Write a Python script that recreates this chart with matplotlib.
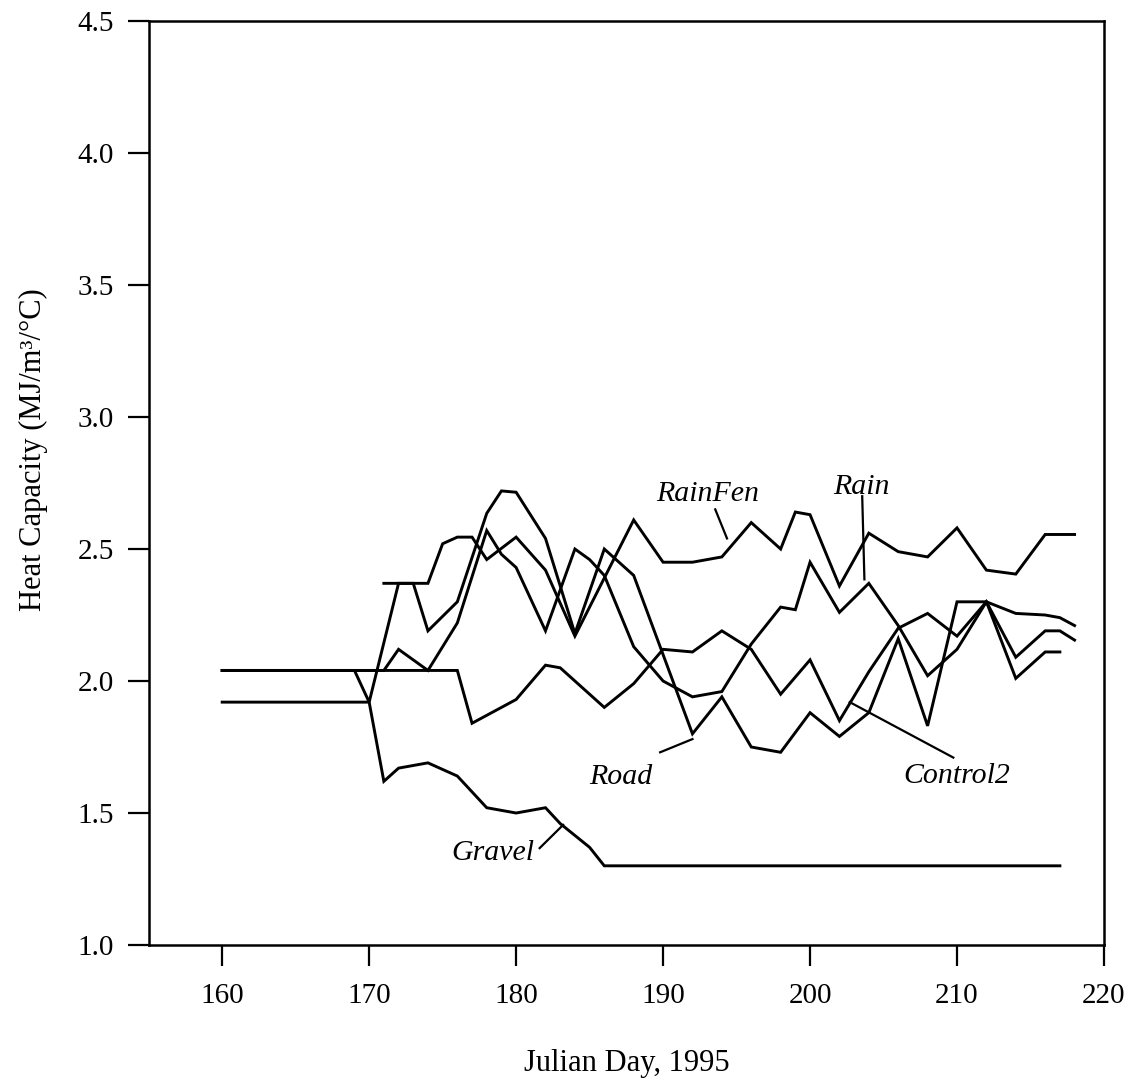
import matplotlib
matplotlib.use("Agg")
import matplotlib.pyplot as plt

plt.rcParams['font.family'] = ['Liberation Serif', 'DejaVu Serif']

# ---- data ----
rainfen_day = [171, 172, 173, 174, 175, 176, 177, 178, 180, 182, 184, 188, 190, 192, 194, 196, 198, 199,
               200, 202, 204, 206, 208, 210, 212, 214, 216, 218]
rainfen_val = [2.37, 2.37, 2.37, 2.37, 2.52, 2.545, 2.545, 2.46, 2.545, 2.42, 2.17, 2.61, 2.45, 2.45, 2.47,
               2.60, 2.50, 2.64, 2.63, 2.36, 2.56, 2.49, 2.47, 2.58, 2.42, 2.405, 2.555, 2.555]

rain_day = [160, 170, 171, 172, 174, 176, 178, 179, 180, 182, 184, 185, 186, 188, 190, 192, 194, 196, 198,
            199, 200, 202, 204, 206, 208, 210, 212, 214, 216, 217, 218]
rain_val = [2.04, 2.04, 2.04, 2.12, 2.04, 2.22, 2.57, 2.48, 2.43, 2.19, 2.50, 2.46, 2.40, 2.13, 2.00, 1.94,
            1.96, 2.14, 2.28, 2.27, 2.45, 2.26, 2.37, 2.21, 2.02, 2.12, 2.30, 2.09, 2.19, 2.19, 2.155]

road_day = [160, 169, 170, 172, 173, 174, 176, 178, 179, 180, 182, 184, 186, 188, 190, 192, 194, 196, 198,
            200, 202, 204, 206, 208, 210, 212, 214, 216, 217]
road_val = [2.04, 2.04, 1.92, 2.37, 2.37, 2.19, 2.30, 2.635, 2.72, 2.715, 2.54, 2.18, 2.50, 2.40, 2.10, 1.80,
            1.94, 1.75, 1.73, 1.88, 1.79, 1.88, 2.16, 1.83, 2.30, 2.30, 2.01, 2.11, 2.11]

control2_day = [160, 170, 176, 177, 178, 180, 182, 183, 184, 186, 188, 190, 192, 194, 196, 198, 200, 202,
                204, 206, 208, 210, 212, 214, 216, 217, 218]
control2_val = [2.04, 2.04, 2.04, 1.84, 1.87, 1.93, 2.06, 2.05, 2.00, 1.90, 1.99, 2.12, 2.11, 2.19, 2.12,
                1.95, 2.08, 1.85, 2.035, 2.20, 2.256, 2.17, 2.30, 2.256, 2.25, 2.24, 2.21]

gravel_day = [160, 170, 171, 172, 174, 176, 178, 180, 182, 183, 185, 186, 217]
gravel_val = [1.92, 1.92, 1.62, 1.67, 1.69, 1.64, 1.52, 1.50, 1.52, 1.46, 1.37, 1.30, 1.30]

x_ticks = [160, 170, 180, 190, 200, 210, 220]
y_ticks = [1.0, 1.5, 2.0, 2.5, 3.0, 3.5, 4.0, 4.5]

# label text, text position, leader start, leader end
labels = [
    ("RainFen", (193.0, 2.71), (193.55, 2.65), (194.35, 2.54)),
    ("Rain", (203.5, 2.735), (203.55, 2.70), (203.7, 2.385)),
    ("Road", (187.1, 1.635), (189.8, 1.73), (192.0, 1.78)),
    ("Control2", (210.0, 1.64), (209.75, 1.71), (202.7, 1.92)),
    ("Gravel", (178.4, 1.35), (181.6, 1.367), (183.2, 1.455)),
]

fig = plt.figure(figsize=(11.44, 10.82), dpi=100)
ax = fig.add_axes([0.130, 0.1266, 0.835, 0.854])

lw = 2.1
for d, v in [(rainfen_day, rainfen_val), (rain_day, rain_val), (road_day, road_val),
             (control2_day, control2_val), (gravel_day, gravel_val)]:
    ax.plot(d, v, color='black', lw=lw, solid_joinstyle='miter')

for txt, tpos, p0, p1 in labels:
    ax.text(tpos[0], tpos[1], txt, fontsize=21.5, style='italic', ha='center', va='center')
    ax.plot([p0[0], p1[0]], [p0[1], p1[1]], color='black', lw=1.6)

ax.set_xlim(155, 220)
ax.set_ylim(1.0, 4.5)
ax.set_xticks(x_ticks)
ax.set_yticks(y_ticks)
ax.set_yticklabels([f"{t:.1f}" for t in y_ticks])
ax.tick_params(axis='both', direction='out', length=15, width=1.6, labelsize=21)
ax.tick_params(axis='x', pad=12)
ax.tick_params(axis='y', pad=10)
for s in ax.spines.values():
    s.set_linewidth(1.8)

ax.set_xlabel("Julian Day, 1995", fontsize=22)
ax.xaxis.set_label_coords(0.5, -0.113)
ax.set_ylabel("Heat Capacity (MJ/m³/°C)", fontsize=22)
ax.yaxis.set_label_coords(-0.105, 0.536)

fig.savefig("out.png", dpi=100)
